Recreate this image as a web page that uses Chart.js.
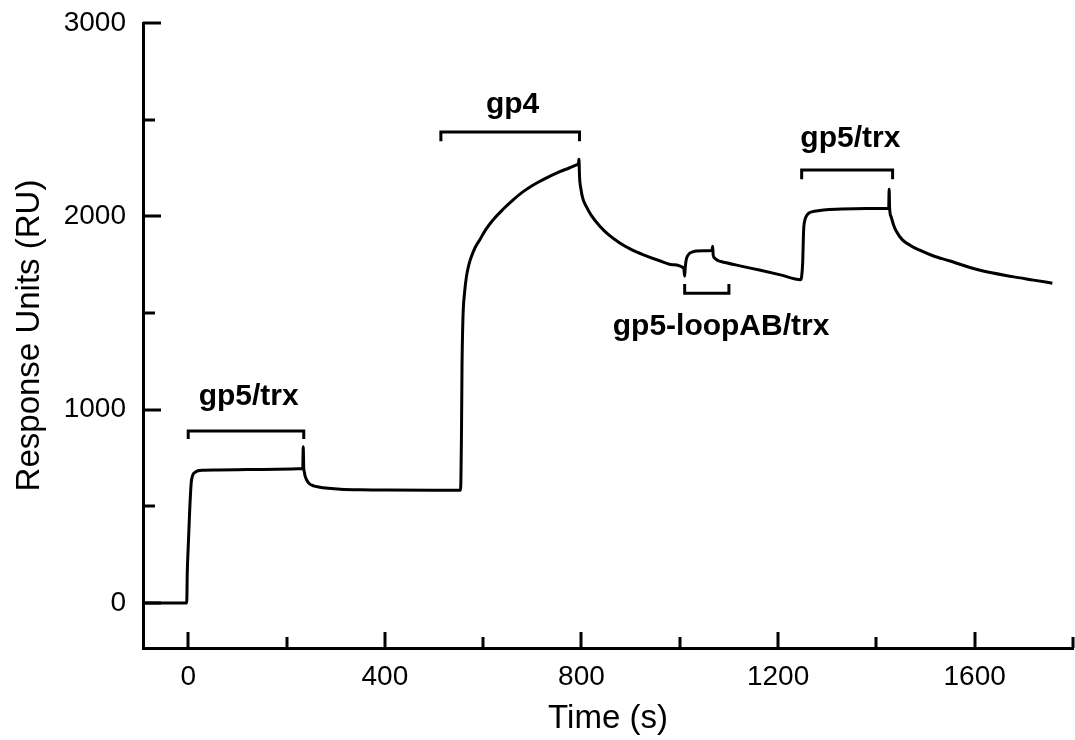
<!DOCTYPE html>
<html>
<head>
<meta charset="utf-8">
<script src="https://cdn.jsdelivr.net/npm/chart.js@4.4.1/dist/chart.umd.min.js"></script>
<style>
  html, body { margin: 0; padding: 0; background: #ffffff; }
  #wrap { width: 1075px; height: 740px; }
</style>
</head>
<body>
<div id="wrap"><canvas id="c" width="1075" height="740"></canvas></div>
<script>
// ---- Sensorgram data (time in s, response in RU) ----
const timeValues = [
  -92, -3, -2, 0, 3, 6, 9, 14, 20, 30, 60, 120, 180, 233,
  234, 235, 236, 238, 241, 246, 255, 265, 285, 310, 350, 400, 500, 554,
  556, 557, 559, 562, 566, 571, 576, 584, 593, 605, 620, 640, 661, 680, 702, 730, 756, 775, 790, 794,
  795, 796, 799, 803, 810, 820, 837, 855, 878, 900, 925, 959, 985, 1008,
  1010, 1011, 1013, 1016, 1020, 1026, 1034, 1050, 1064, 1066, 1067, 1068, 1071, 1077, 1084, 1120, 1162, 1205, 1246,
  1248, 1250, 1252, 1254, 1257, 1262, 1270, 1285, 1298, 1330, 1380, 1425,
  1426, 1427, 1430, 1435, 1440, 1453, 1470, 1487, 1515, 1548, 1609, 1677, 1720, 1758
];
const responseValues = [
  0, 0, 150, 290, 480, 620, 660, 676, 684, 687, 688, 690, 692, 695,
  808, 700, 680, 655, 636, 618, 606, 600, 593, 588, 585, 584, 583, 583,
  900, 1222, 1481, 1600, 1688, 1750, 1791, 1840, 1878, 1930, 1981, 2035, 2085, 2125, 2162, 2200, 2231, 2250, 2266, 2275,
  2295, 2210, 2140, 2090, 2050, 2005, 1950, 1905, 1862, 1830, 1802, 1770, 1750, 1732,
  1690, 1730, 1774, 1795, 1809, 1816, 1821, 1822, 1823, 1830, 1845, 1800, 1784, 1772, 1766, 1745, 1722, 1697, 1672,
  1690, 1757, 1929, 1975, 1998, 2015, 2024, 2030, 2034, 2038, 2040, 2042,
  2140, 2040, 1998, 1955, 1925, 1878, 1848, 1826, 1796, 1770, 1722, 1688, 1670, 1654
];

// ---- Axis ticks ----
const xMajorTicks = [0, 400, 800, 1200, 1600];
const xMinorTicks = [200, 600, 1000, 1400, 1800];
const yMajorTicks = [0, 1000, 2000, 3000];
const yMinorTicks = [500, 1500, 2500];

// ---- Injection annotations (data coordinates) ----
const annotationLabels = ['gp5/trx', 'gp4', 'gp5-loopAB/trx', 'gp5/trx'];
const labelTimes      = [123, 660, 1084, 1347];
const labelResponses  = [1024, 2535, 1386, 2360];
const bracketStart    = [0, 514, 1010, 1248];
const bracketEnd      = [235, 796, 1100, 1433];
const bracketLevel    = [890, 2436, 1602, 2240];
const bracketTip      = [848, 2388, 1650, 2192];

const FONT = '"Liberation Sans", Arial, Helvetica, sans-serif';

const mainPoints = timeValues.map((t, i) => ({ x: t, y: responseValues[i] }));
const bracketSets = bracketStart.map((s, i) => ({
  data: [
    { x: s, y: bracketTip[i] },
    { x: s, y: bracketLevel[i] },
    { x: bracketEnd[i], y: bracketLevel[i] },
    { x: bracketEnd[i], y: bracketTip[i] }
  ],
  borderColor: '#000',
  borderWidth: 3,
  pointRadius: 0,
  tension: 0,
  borderJoinStyle: 'miter',
  borderCapStyle: 'butt',
  clip: false
}));

const inwardTicks = {
  id: 'inwardTicks',
  afterDatasetsDraw(chart) {
    const ctx = chart.ctx;
    const xs = chart.scales.x, ys = chart.scales.y;
    const area = chart.chartArea;
    ctx.save();
    ctx.strokeStyle = '#000';
    ctx.lineWidth = 3;
    ctx.lineCap = 'butt';
    const bottom = area.bottom, left = area.left;
    xMajorTicks.forEach(v => {
      const px = Math.round(xs.getPixelForValue(v));
      ctx.beginPath(); ctx.moveTo(px, bottom); ctx.lineTo(px, bottom - 16); ctx.stroke();
    });
    xMinorTicks.forEach(v => {
      const px = Math.round(xs.getPixelForValue(v));
      ctx.beginPath(); ctx.moveTo(px, bottom); ctx.lineTo(px, bottom - 11); ctx.stroke();
    });
    yMajorTicks.forEach(v => {
      const py = Math.round(ys.getPixelForValue(v));
      ctx.beginPath(); ctx.moveTo(left, py); ctx.lineTo(left + 18, py); ctx.stroke();
    });
    yMinorTicks.forEach(v => {
      const py = Math.round(ys.getPixelForValue(v));
      ctx.beginPath(); ctx.moveTo(left, py); ctx.lineTo(left + 12, py); ctx.stroke();
    });
    // annotation labels
    ctx.fillStyle = '#000';
    ctx.font = 'bold 30px ' + FONT;
    ctx.textAlign = 'center';
    ctx.textBaseline = 'alphabetic';
    annotationLabels.forEach((txt, i) => {
      ctx.fillText(txt, xs.getPixelForValue(labelTimes[i]), ys.getPixelForValue(labelResponses[i]));
    });
    ctx.restore();
  }
};

new Chart(document.getElementById('c'), {
  type: 'line',
  data: {
    datasets: [{
      data: mainPoints,
      borderColor: '#000',
      borderWidth: 3,
      pointRadius: 0,
      cubicInterpolationMode: 'monotone',
      borderJoinStyle: 'round',
      clip: false
    }].concat(bracketSets)
  },
  options: {
    responsive: false,
    animation: false,
    devicePixelRatio: 1,
    layout: { padding: { top: 23, right: 2, left: 0, bottom: 0 } },
    plugins: { legend: { display: false }, tooltip: { enabled: false } },
    scales: {
      x: {
        type: 'linear',
        min: -92,
        max: 1800,
        afterFit(s) { s.height = 92; s.paddingLeft = 0; s.paddingRight = 0; },
        afterBuildTicks(s) { s.ticks = xMajorTicks.map(v => ({ value: v })); },
        grid: { display: false, drawTicks: false },
        border: { display: true, color: '#000', width: 3 },
        ticks: { color: '#000', font: { family: FONT, size: 28 }, padding: 12, maxRotation: 0, autoSkip: false,
                 callback: v => String(v) },
        title: { display: true, text: 'Time (s)', color: '#000', font: { family: FONT, size: 33 }, padding: { top: 0, bottom: 1 } }
      },
      y: {
        type: 'linear',
        min: -233,
        max: 3000,
        afterFit(s) { s.width = 143; s.paddingTop = 0; s.paddingBottom = 0; },
        afterBuildTicks(s) { s.ticks = yMajorTicks.map(v => ({ value: v })); },
        grid: { display: false, drawTicks: false },
        border: { display: true, color: '#000', width: 3 },
        ticks: { color: '#000', font: { family: FONT, size: 28 }, padding: 17, autoSkip: false,
                 callback: v => String(v) },
        title: { display: true, text: 'Response Units (RU)', color: '#000', font: { family: FONT, size: 33 }, padding: { top: 10, bottom: 0 } }
      }
    }
  },
  plugins: [inwardTicks]
});
</script>
</body>
</html>
